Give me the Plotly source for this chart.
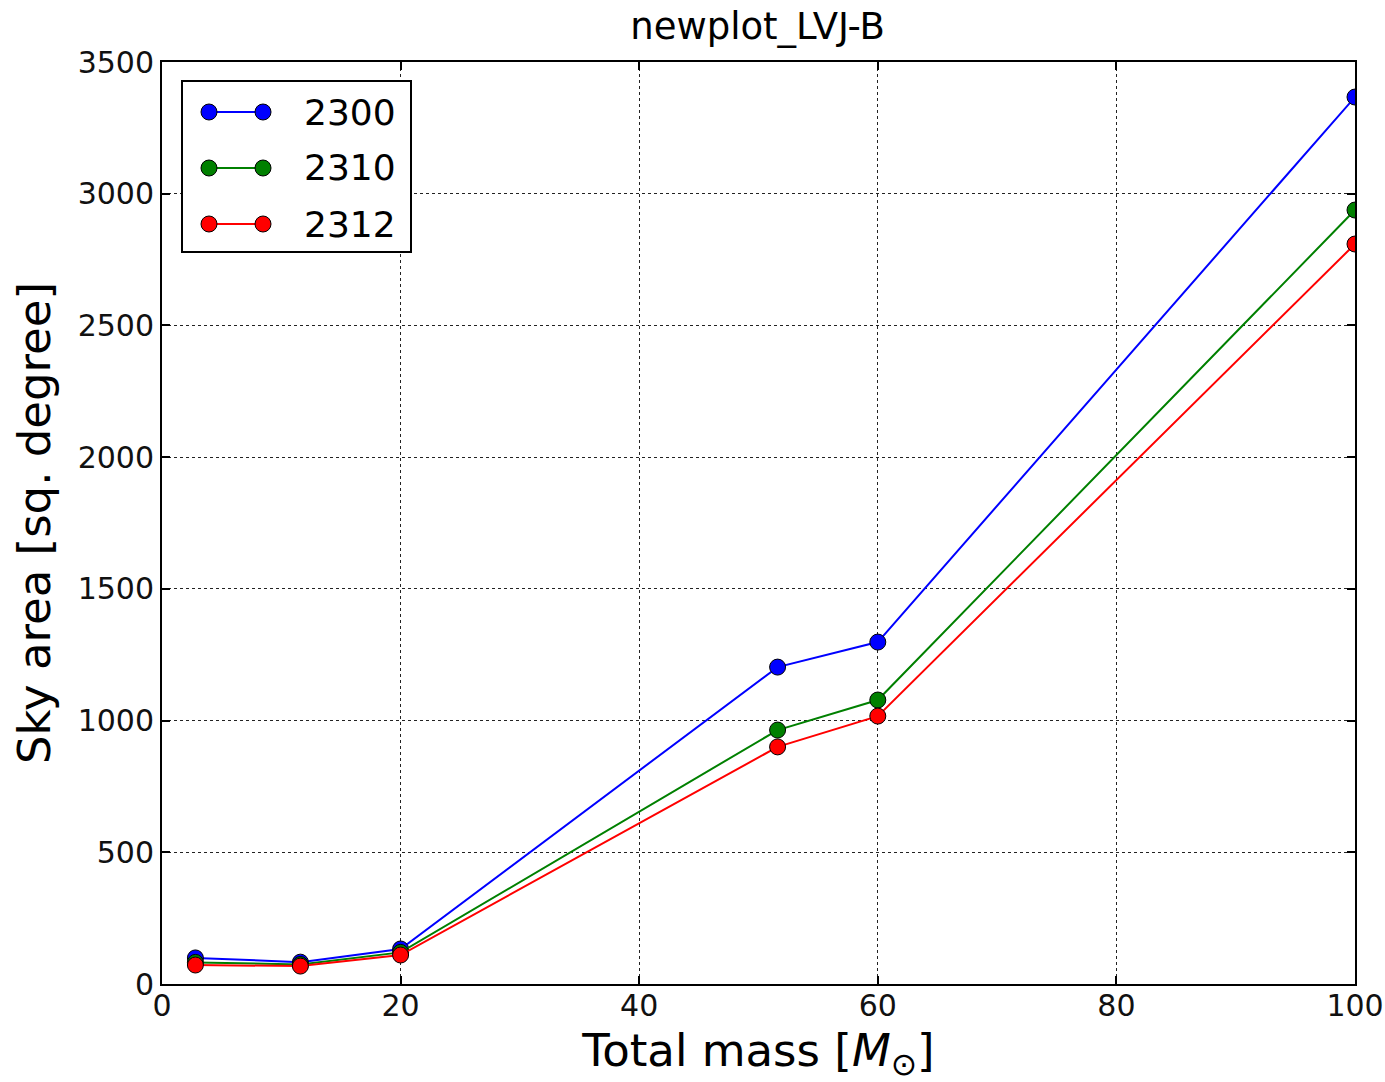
import plotly.graph_objects as go

# Total mass of the injected binaries (solar masses)
total_mass = [2.8, 11.6, 20.0, 51.6, 60.0, 100.0]

# Sky area (square degrees) for each run
series_names = ["2300", "2310", "2312"]
area_2300 = [99, 83, 133, 1203, 1298, 3367]
area_2310 = [82, 74, 120, 964, 1078, 2938]
area_2312 = [72, 68, 110, 900, 1017, 2809]
series_values = [area_2300, area_2310, area_2312]
series_colors = ["#0000ff", "#008000", "#ff0000"]

x_ticks = [0, 20, 40, 60, 80, 100]
y_ticks = [0, 500, 1000, 1500, 2000, 2500, 3000, 3500]

FONT = "DejaVu Sans"

fig = go.Figure()
for name, vals, col in zip(series_names, series_values, series_colors):
    fig.add_trace(go.Scatter(
        x=total_mass, y=vals, name=name, mode="lines+markers",
        line=dict(color=col, width=2),
        marker=dict(color=col, size=16, line=dict(color="black", width=1)),
        showlegend=False,
    ))

axis_common = dict(
    showline=True, linecolor="black", linewidth=2, mirror="allticks",
    ticks="inside", ticklen=8, tickwidth=1.5, tickcolor="black",
    showgrid=True, gridcolor="#222222", gridwidth=1, griddash="dot",
    zeroline=False, automargin=False,
    tickfont=dict(family=FONT, size=30, color="#111111"),
)

fig.update_xaxes(range=[0, 100], tickvals=x_ticks, ticklabelstandoff=-6,
                 title=dict(text="Total mass [<i>M</i><sub>⊙</sub>]",
                            font=dict(family=FONT, size=45, color="black"),
                            standoff=24),
                 **axis_common)
fig.update_yaxes(range=[0, 3500], tickvals=y_ticks,
                 title=dict(text="Sky area [sq. degree]",
                            font=dict(family=FONT, size=45, color="black"),
                            standoff=13),
                 **axis_common)

# Legend box drawn in paper coordinates (two markers per entry)
shapes = []
annotations = []
W, H = 1193, 922  # plot area size in px
def px_x(p):
    return p / W
def px_y(p):
    return 1 - p / H

shapes.append(dict(type="rect", xref="paper", yref="paper",
                   x0=px_x(20), x1=px_x(249), y0=px_y(19), y1=px_y(190),
                   line=dict(color="black", width=2), fillcolor="white",
                   layer="above"))
for i, (name, col) in enumerate(zip(series_names, series_colors)):
    yc = px_y(50 + i * 56)
    shapes.append(dict(type="line", xref="paper", yref="paper",
                       x0=px_x(47), x1=px_x(101), y0=yc, y1=yc,
                       line=dict(color=col, width=2), layer="above"))
    for xc in (47, 101):
        shapes.append(dict(type="circle", xref="paper", yref="paper",
                           xsizemode="pixel", ysizemode="pixel",
                           xanchor=px_x(xc), yanchor=yc,
                           x0=-8, x1=8, y0=-8, y1=8,
                           fillcolor=col, line=dict(color="black", width=1),
                           layer="above"))
    annotations.append(dict(xref="paper", yref="paper", x=px_x(140), y=yc,
                            xanchor="left", yanchor="middle", showarrow=False,
                            text=name,
                            font=dict(family=FONT, size=36, color="black")))

fig.update_layout(
    width=1385, height=1082,
    margin=dict(l=162, r=30, t=62, b=98),
    paper_bgcolor="white", plot_bgcolor="white",
    title=dict(text="newplot_LVJ-B", x=0.547, xanchor="center",
               y=0.976, yanchor="middle",
               font=dict(family=FONT, size=37, color="black")),
    shapes=shapes, annotations=annotations,
)

fig.write_html("out.html")
